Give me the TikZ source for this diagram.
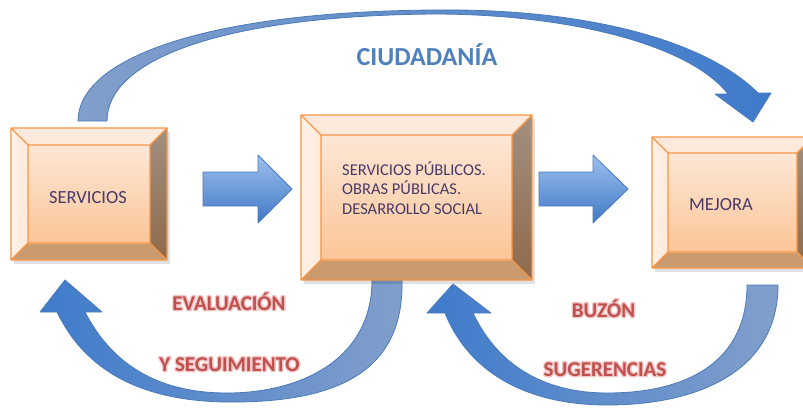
\documentclass[tikz,border=0pt]{standalone}
\usepackage{fontspec}
\setmainfont{Carlito}
\usetikzlibrary{calc}
\definecolor{boxline}{HTML}{F79646}
\definecolor{facetop}{HTML}{FDEADC}
\definecolor{faceleft}{HTML}{FEF1E7}
\definecolor{facebottom}{HTML}{CA9B6F}
\definecolor{facerightA}{HTML}{A29080}
\definecolor{facerightB}{HTML}{8F6A4B}
\definecolor{innerA}{HTML}{FDE7D6}
\definecolor{innerB}{HTML}{FBC597}
\definecolor{boxtext}{HTML}{483A68}
\definecolor{arrowA}{HTML}{9CC0EE}
\definecolor{arrowB}{HTML}{4079C6}
\definecolor{arrowline}{HTML}{4A7AB8}
\definecolor{curveDark}{HTML}{3F7BCB}
\definecolor{curveLight}{HTML}{829FCB}
\definecolor{ciud}{HTML}{4F81BD}
\definecolor{redtext}{HTML}{C0504D}
% glow: the same word once more, stroked only (pdf text render mode 1), under the filled word
\newcommand\glowword[1]{\rlap{\special{pdf:literal direct 1 Tr 2.8 w 1 J 1 j 0.95 0.78 0.78 RG}#1\special{pdf:literal direct 0 Tr}}#1}
\newcommand\bevelfaces[2]{%
  \coordinate (#1-o1) at (#1.north west);
  \coordinate (#1-o2) at (#1.north east);
  \coordinate (#1-o3) at (#1.south east);
  \coordinate (#1-o4) at (#1.south west);
  \coordinate (#1-i1) at ($(#1.north west)+(#2,#2)$);
  \coordinate (#1-i2) at ($(#1.north east)+(-#2,#2)$);
  \coordinate (#1-i3) at ($(#1.south east)+(-#2,-#2)$);
  \coordinate (#1-i4) at ($(#1.south west)+(#2,-#2)$);
  \fill[black,opacity=0.12] ($(#1-o1)+(3,4)$) rectangle ($(#1-o3)+(3,4)$);
  \fill[facetop] (#1-o1)--(#1-o2)--(#1-i2)--(#1-i1)--cycle;
  \shade[left color=faceleft,right color=facetop] (#1-o1)--(#1-i1)--(#1-i4)--(#1-o4)--cycle;
  \fill[facebottom] (#1-o4)--(#1-i4)--(#1-i3)--(#1-o3)--cycle;
  \shade[top color=facerightA,bottom color=facerightB] (#1-o2)--(#1-o3)--(#1-i3)--(#1-i2)--cycle;
  \shade[top color=innerA,bottom color=innerB] (#1-i1) rectangle (#1-i3);
  \draw[boxedge] (#1-o1) rectangle (#1-o3) (#1-i1) rectangle (#1-i3)
     (#1-o1)--(#1-i1) (#1-o2)--(#1-i2) (#1-o3)--(#1-i3) (#1-o4)--(#1-i4);
}
\begin{document}
\begin{tikzpicture}[x=1pt,y=-1pt,
  bx/.style={shape=rectangle,inner sep=0pt,outer sep=0pt,draw=none},
  boxedge/.style={draw=boxline,line width=1.4pt,line join=round},
  lbl/.style={inner sep=0pt,text=boxtext},
  bigl/.style={lbl,font=\fontsize{18.5}{22}\selectfont,anchor=base},
  midl/.style={lbl,font=\fontsize{16.5}{19.5}\selectfont,anchor=base west},
  redl/.style={inner sep=0pt,text=redtext,font=\bfseries\fontsize{21}{25}\selectfont,anchor=base},
  straight/.style={top color=arrowA,bottom color=arrowB,draw=arrowline,line width=0.8pt,line join=round},
  curved/.style={draw=arrowline,line width=0.8pt,line join=round}]
\useasboundingbox (0,0) rectangle (803,408);
\clip (0,0) rectangle (803,408);
\fill[white] (0,0) rectangle (803,408);

% top curved arrow (CIUDADANIA)
\shadedraw[curved,left color=curveLight,right color=curveDark]
  (78,121) .. controls (78,60) and (200,12) .. (433,10)
  .. controls (585,8) and (705,40) .. (758,93)
  -- (771,93) -- (753,122) -- (715,94) -- (728,94)
  .. controls (690,45) and (570,14) .. (433,14)
  .. controls (220,16) and (107,60) .. (107,121) -- cycle;

% bottom left curved arrow
\shadedraw[curved,left color=curveDark,right color=curveLight]
  (65,280) -- (102,312) -- (85,312)
  .. controls (115,370) and (165,393) .. (227,393)
  .. controls (300,393) and (372,360) .. (372,280)
  -- (402,280)
  .. controls (404,370) and (340,403) .. (227,402)
  .. controls (140,401) and (85,370) .. (57,312)
  -- (40,312) -- cycle;

% bottom right curved arrow
\shadedraw[curved,left color=curveDark,right color=curveLight]
  (453,284) -- (491,313) -- (473,313)
  .. controls (500,370) and (550,393) .. (607,393)
  .. controls (690,393) and (747,360) .. (747,285)
  -- (778,285)
  .. controls (778,370) and (700,405) .. (607,405)
  .. controls (530,405) and (470,375) .. (445,313)
  -- (427,313) -- cycle;

% boxes
\node[bx,minimum width=156pt,minimum height=132pt] (b1) at (89,194) {};
\node[bx,minimum width=231pt,minimum height=165pt] (b2) at (416.5,197.5) {};
\node[bx,minimum width=161pt,minimum height=131pt] (b3) at (732.5,202.5) {};
\bevelfaces{b1}{17}
\bevelfaces{b2}{20}
\bevelfaces{b3}{16}

% straight arrows
\shadedraw[straight] (203,172) -- (258,172) -- (258,155) -- (292,189) -- (258,223) -- (258,206) -- (203,206) -- cycle;
\shadedraw[straight] (539,172) -- (593,172) -- (593,155) -- (628,189) -- (593,223) -- (593,206) -- (539,206) -- cycle;

% texts
\node[bigl] (t1) at (88,203) {SERVICIOS};
\node[bigl] (t3) at (721,210) {MEJORA};
\node[midl] (t2a) at (342,175) {SERVICIOS PÚBLICOS.};
\node[midl] (t2b) at (342,194.5) {OBRAS PÚBLICAS.};
\node[midl] (t2c) at (342,214) {DESARROLLO SOCIAL};

\node[inner sep=0pt,text=ciud,font=\bfseries\fontsize{26}{30}\selectfont,anchor=base] (ciu) at (427,65) {CIUDADANÍA};

\node[redl] (r1) at (229,310) {\glowword{EVALUACIÓN}};
\node[redl] (r2) at (229.5,371) {\glowword{Y SEGUIMIENTO}};
\node[redl] (r3) at (603.5,317) {\glowword{BUZÓN}};
\node[redl] (r4) at (605,376) {\glowword{SUGERENCIAS}};
\end{tikzpicture}
\end{document}
